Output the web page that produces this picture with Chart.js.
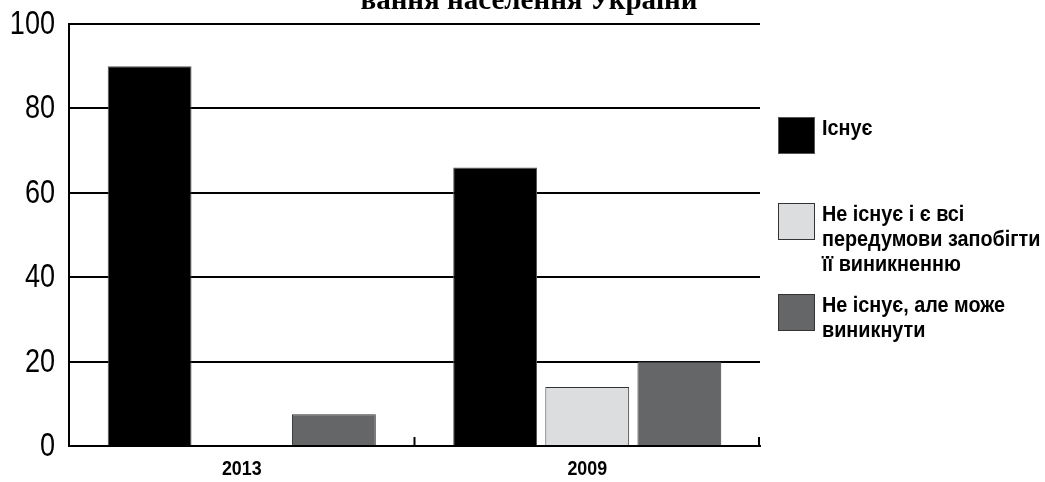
<!DOCTYPE html>
<html>
<head>
<meta charset="utf-8">
<script src="https://cdn.jsdelivr.net/npm/chart.js@4"></script>
<style>
  html, body { margin: 0; padding: 0; background: #fff; }
  #wrap { width: 1045px; height: 482px; }
</style>
</head>
<body>
<div id="wrap"><canvas id="mycanvas"></canvas></div>
<script>
var years = ['2013', '2009'];
var labels = ['Існує', 'Не існує і є всі передумови запобігти її виникненню', 'Не існує, але може виникнути'];
var legendLines = [['Існує'], ['Не існує і є всі', 'передумови запобігти', 'її виникненню'], ['Не існує, але може', 'виникнути']];
var exists = [90, 66];
var preventable = [0, 14];
var mayArise = [7.5, 20];
var yTicks = [0, 20, 40, 60, 80, 100];
var titleText = 'вання населення України';

var sans = '"Liberation Sans", Arial, sans-serif';

// the original uses a condensed face, so squeeze the text horizontally
function narrowText(c, text, x, y, font, sx, align, base) {
	c.save();
	c.font = font;
	c.textAlign = align;
	c.textBaseline = base;
	c.translate(x, y);
	c.scale(sx, 1);
	c.fillText(text, 0, 0);
	c.restore();
}

// title (cut at top), axis labels, legend on the right, small ticks on the x axis
var extras = {
	id: 'extras',
	afterDraw: function(chart) {
		var c = chart.ctx;
		var x = chart.scales.x, y = chart.scales.y;
		c.save();
		c.fillStyle = '#000';
		c.font = 'bold 29px "Liberation Serif", "Times New Roman", serif';
		c.textAlign = 'center';
		c.textBaseline = 'alphabetic';
		c.fillText(titleText, 529, 9);

		y.ticks.forEach(function(t) {
			narrowText(c, String(t.value), 55, y.getPixelForValue(t.value) + 1, '33px ' + sans, 0.82, 'right', 'middle');
		});
		years.forEach(function(lab, i) {
			narrowText(c, lab, x.getPixelForTick(i), 469, 'bold 21px ' + sans, 0.85, 'center', 'middle');
		});

		// ticks between categories and at the right end
		c.strokeStyle = '#000';
		c.lineWidth = 2;
		var ends = [];
		for (var i = 0; i < years.length - 1; i++) {
			ends.push((x.getPixelForTick(i) + x.getPixelForTick(i + 1)) / 2);
		}
		ends.push(x.right - 1);
		ends.forEach(function(px) {
			c.beginPath();
			c.moveTo(px, y.bottom);
			c.lineTo(px, y.bottom - 9);
			c.stroke();
		});

		// legend
		var tops = [117, 203, 294];
		chart.data.datasets.forEach(function(ds, k) {
			c.fillStyle = ds.backgroundColor;
			c.fillRect(778, tops[k], 37, 37);
			c.strokeStyle = ds.borderColor;
			c.lineWidth = 1;
			c.strokeRect(778.5, tops[k] + 0.5, 36, 36);
			c.fillStyle = '#000';
			legendLines[k].forEach(function(line, j) {
				narrowText(c, line, 822, tops[k] + 1 + j * 25, 'bold 22px ' + sans, 0.9, 'left', 'top');
			});
		});
		c.restore();
	}
};

var chartdata = {
	labels: years,
	datasets: [
		{ label: labels[0], data: exists, backgroundColor: '#000000', borderColor: '#555555', borderWidth: 1 },
		{ label: labels[1], data: preventable, backgroundColor: '#dcdddf', borderColor: '#333333', borderWidth: 1 },
		{ label: labels[2], data: mayArise, backgroundColor: '#656667', borderColor: '#333333', borderWidth: 1 }
	]
};

var ctx = document.getElementById('mycanvas');
var barGraph = new Chart(ctx, {
	type: 'bar',
	data: chartdata,
	plugins: [extras],
	options: {
		responsive: true,
		maintainAspectRatio: false,
		animation: false,
		layout: { padding: { top: 24, right: 285, left: 0, bottom: 0 } },
		datasets: { bar: { categoryPercentage: 0.8, barPercentage: 0.91 } },
		plugins: { legend: { display: false }, tooltip: { enabled: false } },
		scales: {
			x: {
				grid: { display: false },
				border: { color: '#000', width: 2 },
				ticks: { display: false },
				afterFit: function(s) { s.height = 36; }
			},
			y: {
				min: 0,
				max: 100,
				afterBuildTicks: function(s) { s.ticks = yTicks.map(function(v) { return { value: v }; }); },
				grid: { color: '#000', lineWidth: 2, drawTicks: false },
				border: { color: '#000', width: 2 },
				ticks: { display: false },
				afterFit: function(s) { s.width = 69; }
			}
		}
	}
});
</script>
</body>
</html>
